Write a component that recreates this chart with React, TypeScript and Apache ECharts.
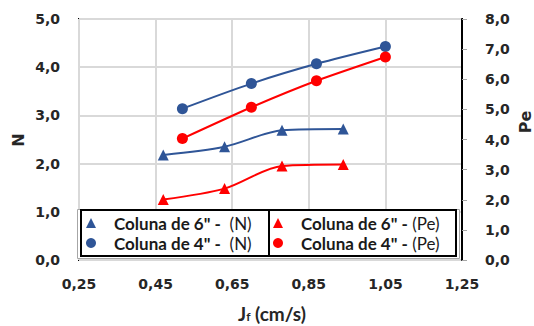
import React, { useEffect, useRef } from "react";
import * as echarts from "echarts";

// Axis ticks start at 0.25 (not a multiple of the 0.2 step), so the x axis is drawn shifted by this amount.
const X_OFFSET = 0.25;

const jf6 = [0.47, 0.63, 0.78, 0.94];
const n6 = [2.18, 2.35, 2.69, 2.72];
const pe6 = [2.01, 2.37, 3.12, 3.17];

const jf4 = [0.52, 0.7, 0.87, 1.05];
const n4 = [3.14, 3.66, 4.07, 4.43];
const pe4 = [4.03, 5.07, 5.95, 6.74];

const seriesNames = [
  'Coluna de 6" -  (N)',
  'Coluna de 4" -  (N)',
  'Coluna de 6" - (Pe)',
  'Coluna de 4" - (Pe)',
];

const BLUE = "#2f5597";
const RED = "#ff0000";
const LABEL_COLOR = "#262626";
const TICK_FONT = "DejaVu Sans";
const TEXT_FONT = "Lato";

const comma = (v: number, d: number) => v.toFixed(d).replace(".", ",");

export default function App() {
  const ref = useRef<HTMLDivElement>(null);
  useEffect(() => {
    if (!ref.current) return;
    const chart = echarts.init(ref.current, null, { renderer: "svg" });

    const mk = (
      name: string,
      xs: number[],
      ys: number[],
      yAxisIndex: number,
      color: string,
      symbol: string,
      symbolSize: number,
      smooth: number
    ) => ({
      name,
      type: "line",
      yAxisIndex,
      data: xs.map((x, i) => [x - X_OFFSET, ys[i]]),
      symbol,
      symbolSize,
      smooth,
      lineStyle: { color, width: 2 },
      itemStyle: { color },
      z: 2,
    });

    const legendText = (name: string) => {
      const idx = name.indexOf("(");
      const a = name.slice(0, idx).replace(/ +$/, "");
      const spaces = name.slice(0, idx).length - a.length;
      const b = name.slice(idx);
      return `{s|}{b|${a}}{n|${" ".repeat(spaces)}${b}}`;
    };

    const legendRich = {
      s: { width: 13, lineHeight: 18 },
      b: { fontFamily: TEXT_FONT, fontWeight: "bold", fontSize: 17, lineHeight: 18, color: "#1a1a1a" },
      n: { fontFamily: TEXT_FONT, fontWeight: "normal", fontSize: 17, lineHeight: 18, color: "#1a1a1a" },
    };

    const legendBase = {
      orient: "vertical",
      itemWidth: 10,
      itemHeight: 10,
      itemGap: 2,
      selectedMode: false,
      z: 10,
      padding: 0,
      formatter: legendText,
      textStyle: { rich: legendRich, lineHeight: 18 },
    };

    const option = {
      animation: false,
      backgroundColor: "#fff",
      grid: {
        left: 79,
        top: 19,
        width: 383,
        height: 241,
        show: true,
        borderColor: "#000",
        borderWidth: 2,
        backgroundColor: "#fff",
      },
      xAxis: {
        type: "value",
        min: 0,
        max: 1,
        interval: 0.2,
        axisLine: { show: false },
        axisTick: { show: false },
        splitLine: { show: true, lineStyle: { color: "#d9d9d9", width: 2 } },
        axisLabel: {
          formatter: (v: number) => comma(v + X_OFFSET, 2),
          margin: 17,
          fontFamily: TICK_FONT,
          fontWeight: "bold",
          fontSize: 14,
          color: LABEL_COLOR,
        },
      },
      yAxis: [
        {
          type: "value",
          min: 0,
          max: 5,
          interval: 1,
          axisLine: { show: false },
          axisTick: { show: false },
          splitLine: { show: true, lineStyle: { color: "#d9d9d9", width: 2 } },
          axisLabel: {
            formatter: (v: number) => comma(v, 1),
            margin: 19,
            fontFamily: TICK_FONT,
            fontWeight: "bold",
            fontSize: 14,
            color: LABEL_COLOR,
          },
        },
        {
          type: "value",
          position: "right",
          min: 0,
          max: 8,
          interval: 1,
          axisLine: { show: true, lineStyle: { color: "#000", width: 2 } },
          axisTick: { show: true, length: 5, lineStyle: { color: "#a6a6a6", width: 1 } },
          splitLine: { show: false },
          axisLabel: {
            formatter: (v: number) => comma(v, 1),
            margin: 23,
            fontFamily: TICK_FONT,
            fontWeight: "bold",
            fontSize: 14,
            color: LABEL_COLOR,
          },
        },
      ],
      legend: [
        {
          ...legendBase,
          left: 86,
          top: 214,
          data: [
            { name: seriesNames[0], icon: "triangle" },
            { name: seriesNames[1], icon: "circle" },
          ],
        },
        {
          ...legendBase,
          left: 273,
          top: 214,
          data: [
            { name: seriesNames[2], icon: "triangle" },
            { name: seriesNames[3], icon: "circle" },
          ],
        },
      ],
      graphic: [
        {
          type: "rect",
          z: 5,
          shape: { x: 77.5, y: 209.5, width: 382, height: 49 },
          style: { fill: "#fff", stroke: "#a6a6a6", lineWidth: 1 },
        },
        {
          type: "rect",
          z: 6,
          shape: { x: 81, y: 210, width: 375, height: 46 },
          style: { fill: "#fff", stroke: "#000", lineWidth: 2 },
        },
        {
          type: "line",
          z: 6,
          shape: { x1: 269, y1: 210, x2: 269, y2: 256 },
          style: { stroke: "#000", lineWidth: 2 },
        },
        {
          type: "text",
          x: 18,
          y: 140,
          rotation: Math.PI / 2,
          style: {
            text: "N",
            fontFamily: TICK_FONT,
            fontWeight: "bold",
            fontSize: 16,
            fill: LABEL_COLOR,
            align: "center",
            verticalAlign: "middle",
          },
        },
        {
          type: "text",
          x: 525,
          y: 122,
          rotation: Math.PI / 2,
          style: {
            text: "Pe",
            fontFamily: TICK_FONT,
            fontWeight: "bold",
            fontSize: 16,
            fill: LABEL_COLOR,
            align: "center",
            verticalAlign: "middle",
          },
        },
        {
          type: "text",
          x: 272,
          y: 313,
          style: {
            text: "{j|J}{f|f}{t| (cm/s)}",
            align: "center",
            verticalAlign: "middle",
            rich: {
              j: { fontFamily: TEXT_FONT, fontWeight: "bold", fontSize: 19, lineHeight: 20, fill: LABEL_COLOR },
              f: { fontFamily: TEXT_FONT, fontWeight: "bold", fontSize: 12, lineHeight: 20, fill: LABEL_COLOR, padding: [6, 0, 0, 0] },
              t: { fontFamily: TEXT_FONT, fontWeight: "bold", fontSize: 19, lineHeight: 20, fill: LABEL_COLOR },
            },
          },
        },
      ],
      series: [
        mk(seriesNames[0], jf6, n6, 0, BLUE, "triangle", 11, 0.3),
        mk(seriesNames[1], jf4, n4, 0, BLUE, "circle", 11, 0.3),
        mk(seriesNames[2], jf6, pe6, 1, RED, "triangle", 11, 0.3),
        mk(seriesNames[3], jf4, pe4, 1, RED, "circle", 11, 0.2),
      ],
    };

    chart.setOption(option as any);
    return () => chart.dispose();
  }, []);

  return <div ref={ref} style={{ width: 534, height: 326, position: "absolute", left: 0, top: 0 }} />;
}
